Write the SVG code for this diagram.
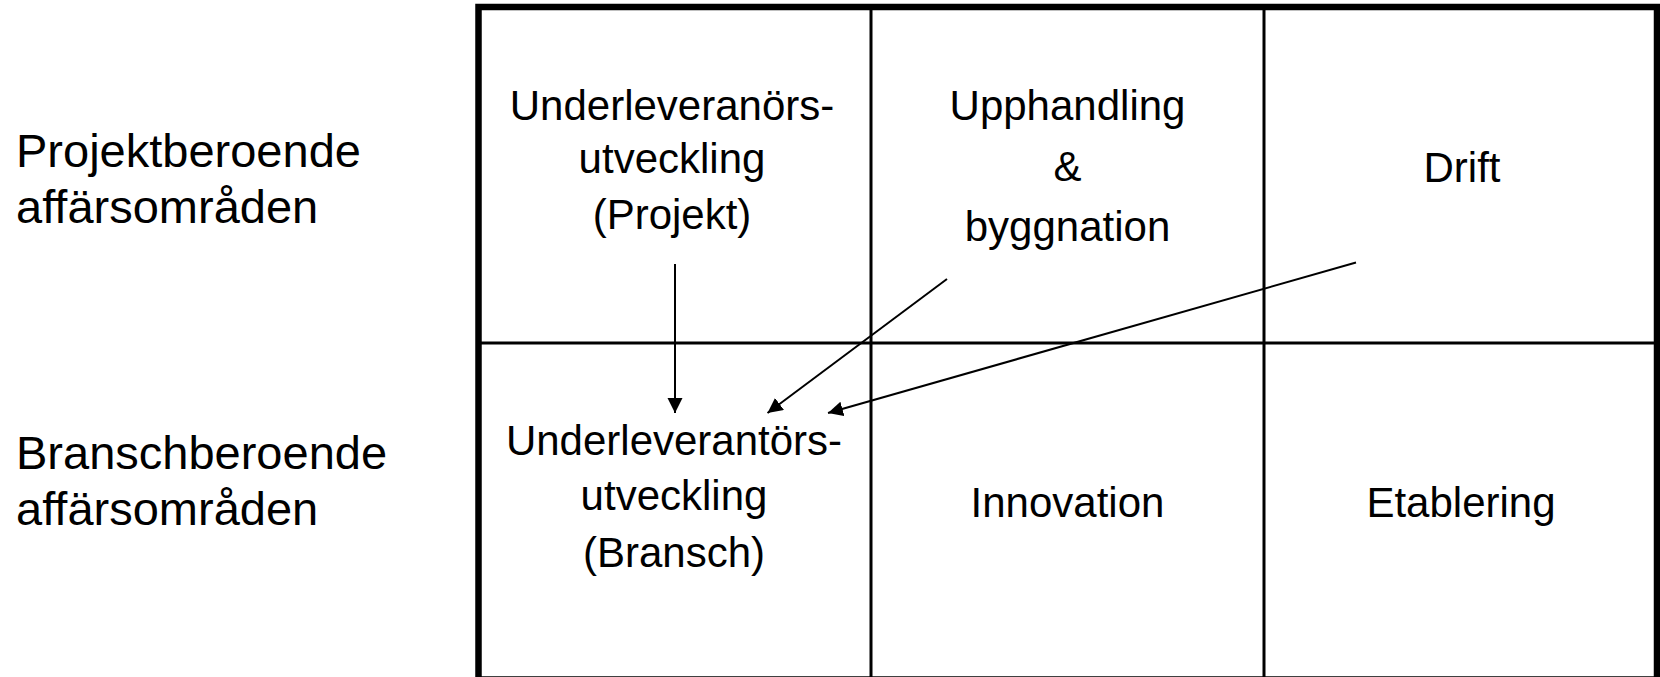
<svg xmlns="http://www.w3.org/2000/svg" width="1660" height="677" viewBox="0 0 1660 677">
<style>
  .lbl { font-family: "Liberation Sans", Arial, sans-serif; font-size: 47px; fill: #000; }
  .cell { font-family: "Liberation Sans", Arial, sans-serif; font-size: 42px; fill: #000; text-anchor: middle; }
  .grid { stroke: #000; stroke-width: 3; fill: none; }
  .frame { stroke: #000; stroke-width: 6.5; fill: none; }
  .conn { stroke: #000; stroke-width: 2; fill: none; marker-end: url(#arrow); }
</style>
<defs>
  <marker id="arrow" markerUnits="userSpaceOnUse" markerWidth="16" markerHeight="16" refX="15" refY="7.5" orient="auto">
    <path d="M0,0 L15,7.5 L0,15 z" fill="#000"/>
  </marker>
</defs>
<rect width="1660" height="677" fill="#fff"/>
<g id="row-labels">
  <g id="label-projekt">
    <text class="lbl" x="16" y="167">Projektberoende</text>
    <text class="lbl" x="16" y="223">affärsområden</text>
  </g>
  <g id="label-bransch">
    <text class="lbl" x="16" y="469">Branschberoende</text>
    <text class="lbl" x="16" y="525">affärsområden</text>
  </g>
</g>
<g id="table">
  <rect class="frame" x="478.5" y="7" width="1178.5" height="672.5"/>
  <line class="grid" x1="871" y1="7" x2="871" y2="679"/>
  <line class="grid" x1="1264" y1="7" x2="1264" y2="679"/>
  <line class="grid" x1="478.5" y1="343" x2="1657" y2="343"/>
</g>
<g id="cell-underlev-projekt">
  <text class="cell" x="672" y="120">Underleveranörs-</text>
  <text class="cell" x="672" y="173">utveckling</text>
  <text class="cell" x="672" y="229">(Projekt)</text>
</g>
<g id="cell-upphandling">
  <text class="cell" x="1067.5" y="120">Upphandling</text>
  <text class="cell" x="1067.5" y="181">&amp;</text>
  <text class="cell" x="1067.5" y="241">byggnation</text>
</g>
<g id="cell-drift">
  <text class="cell" x="1462" y="182">Drift</text>
</g>
<g id="cell-underlev-bransch">
  <text class="cell" x="674" y="455">Underleverantörs-</text>
  <text class="cell" x="674" y="510">utveckling</text>
  <text class="cell" x="674" y="567">(Bransch)</text>
</g>
<g id="cell-innovation">
  <text class="cell" x="1067.5" y="517">Innovation</text>
</g>
<g id="cell-etablering">
  <text class="cell" x="1461" y="517">Etablering</text>
</g>
<g id="connectors">
  <line class="conn" x1="675" y1="264" x2="675" y2="413"/>
  <line class="conn" x1="947" y1="279" x2="767.5" y2="413"/>
  <line class="conn" x1="1356" y1="262.5" x2="828" y2="413"/>
</g>
</svg>
